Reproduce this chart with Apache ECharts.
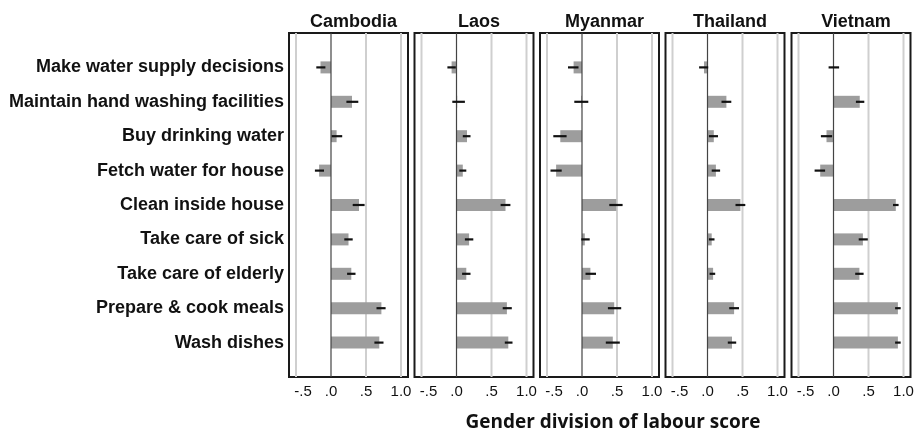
<!DOCTYPE html>
<html>
<head>
<meta charset="utf-8">
<script src="https://cdn.jsdelivr.net/npm/echarts@6/dist/echarts.min.js"></script>
<style>html,body{margin:0;padding:0;background:#fff}#c{width:917px;height:434px}</style>
</head>
<body>
<div id="c"></div>
<script>
const categories = ['Make water supply decisions','Maintain hand washing facilities','Buy drinking water','Fetch water for house','Clean inside house','Take care of sick','Take care of elderly','Prepare & cook meals','Wash dishes'];
const countries = ['Cambodia','Laos','Myanmar','Thailand','Vietnam'];
const tickLabels = [-0.5, 0, 0.5, 1.0];
const gridValues = [-0.5, 0.5, 1.0];

const cambodiaMean = [-0.15, 0.30, 0.08, -0.17, 0.40, 0.25, 0.29, 0.72, 0.69];
const cambodiaLow  = [-0.21, 0.22, 0.01, -0.23, 0.31, 0.19, 0.23, 0.65, 0.62];
const cambodiaHigh = [-0.08, 0.39, 0.16, -0.10, 0.48, 0.31, 0.35, 0.78, 0.75];

const laosMean = [-0.07, 0.01, 0.15, 0.09, 0.70, 0.18, 0.14, 0.72, 0.74];
const laosLow  = [-0.13, -0.06, 0.09, 0.04, 0.63, 0.12, 0.08, 0.66, 0.69];
const laosHigh = [-0.01, 0.12, 0.20, 0.14, 0.77, 0.24, 0.20, 0.79, 0.80];

const myanmarMean = [-0.12, -0.01, -0.31, -0.37, 0.49, 0.04, 0.12, 0.46, 0.44];
const myanmarLow  = [-0.20, -0.11, -0.41, -0.45, 0.39, -0.01, 0.05, 0.37, 0.34];
const myanmarHigh = [-0.05, 0.09, -0.22, -0.29, 0.58, 0.11, 0.20, 0.56, 0.54];

const thailandMean = [-0.05, 0.27, 0.09, 0.12, 0.47, 0.06, 0.08, 0.38, 0.35];
const thailandLow  = [-0.12, 0.20, 0.02, 0.06, 0.40, 0.02, 0.03, 0.31, 0.29];
const thailandHigh = [0.01, 0.34, 0.15, 0.18, 0.54, 0.10, 0.11, 0.45, 0.41];

const vietnamMean = [0.00, 0.375, -0.10, -0.19, 0.89, 0.42, 0.37, 0.92, 0.92];
const vietnamLow  = [-0.07, 0.32, -0.18, -0.27, 0.85, 0.36, 0.31, 0.88, 0.88];
const vietnamHigh = [0.08, 0.44, -0.02, -0.12, 0.93, 0.49, 0.43, 0.96, 0.96];

const means = [cambodiaMean, laosMean, myanmarMean, thailandMean, vietnamMean];
const lows = [cambodiaLow, laosLow, myanmarLow, thailandLow, vietnamLow];
const highs = [cambodiaHigh, laosHigh, myanmarHigh, thailandHigh, vietnamHigh];

const axisCats = [''].concat(categories, ['']);
const lefts = [289, 414.5, 540, 665.5, 791.5];
const W = 119, TOP = 33, H = 344;

function vline(color, width) {
  return (params, api) => {
    const p = api.coord([api.value(0), 0]);
    const cs = params.coordSys;
    return {type: 'line', shape: {x1: p[0], y1: cs.y, x2: p[0], y2: cs.y + cs.height},
      style: {stroke: color, lineWidth: width}};
  };
}

const grids = [], xAxes = [], yAxes = [], series = [], titles = [];
countries.forEach((name, i) => {
  grids.push({left: lefts[i], top: TOP, width: W, height: H, show: true,
    borderColor: '#1a1a1a', borderWidth: 2, backgroundColor: '#fff', containLabel: false});
  titles.push({text: name, left: lefts[i] + W / 2, top: 8, textAlign: 'center',
    textStyle: {fontFamily: 'Liberation Sans, Arial', fontWeight: 'bold', fontSize: 18, color: '#111'}});
  xAxes.push({type: 'value', gridIndex: i, min: -0.6, max: 1.1,
    axisLine: {show: false}, axisTick: {show: false}, splitLine: {show: false},
    axisLabel: {show: true, customValues: tickLabels, margin: 7,
      fontFamily: 'Liberation Sans, Arial', fontSize: 15, color: '#111',
      rich: {n: {fontFamily: 'Liberation Sans, Arial', fontSize: 15, color: '#111', padding: [0, 0, 0, 14]}},
      formatter: v => {
        const r = Math.round(v * 10) / 10;
        if (r === 0) return '.0';
        if (r === 1) return '1.0';
        if (r < 0) return '{n|-' + String(Math.abs(r)).replace(/^0/, '') + '}';
        return String(r).replace(/^0/, '');
      }}});
  yAxes.push({type: 'category', gridIndex: i, data: axisCats, inverse: true, boundaryGap: false,
    axisLine: {show: false}, axisTick: {show: false}, splitLine: {show: false},
    axisLabel: {show: i === 0, margin: 5, fontFamily: 'Liberation Sans, Arial', fontWeight: 'bold',
      fontSize: 18, color: '#111', interval: 0}});
  series.push({type: 'custom', xAxisIndex: i, yAxisIndex: i, z: 1, silent: true,
    data: gridValues.map(v => [v, 0]), encode: {x: 0, y: 1},
    renderItem: vline('#cfcfcf', 2)});
  series.push({type: 'bar', xAxisIndex: i, yAxisIndex: i, barWidth: 12, z: 2,
    itemStyle: {color: '#9d9d9d'},
    data: means[i].map((v, k) => [v, k + 1])});
  series.push({type: 'custom', xAxisIndex: i, yAxisIndex: i, z: 3, silent: true,
    data: [[0, 0]], encode: {x: 0, y: 1},
    renderItem: vline('#444', 1.2)});
  series.push({type: 'custom', xAxisIndex: i, yAxisIndex: i, z: 4,
    data: lows[i].map((lo, k) => [lo, highs[i][k], k + 1]),
    encode: {x: [0, 1], y: 2},
    renderItem: (params, api) => {
      const a = api.coord([api.value(0), api.value(2)]);
      const b = api.coord([api.value(1), api.value(2)]);
      return {type: 'line', shape: {x1: a[0], y1: a[1], x2: b[0], y2: b[1]},
        style: {stroke: '#111', lineWidth: 2.2}};
    }});
});

const chart = echarts.init(document.getElementById('c'), null, {renderer: 'canvas'});
chart.setOption({
  animation: false,
  title: titles,
  grid: grids, xAxis: xAxes, yAxis: yAxes, series: series,
  graphic: [{type: 'text', x: 613, y: 413,
    style: {text: 'Gender division of labour score', fontFamily: 'Open Sans', fontWeight: 'bold',
      fontSize: 19, fill: '#111', align: 'center'}}]
});
</script>
</body>
</html>
